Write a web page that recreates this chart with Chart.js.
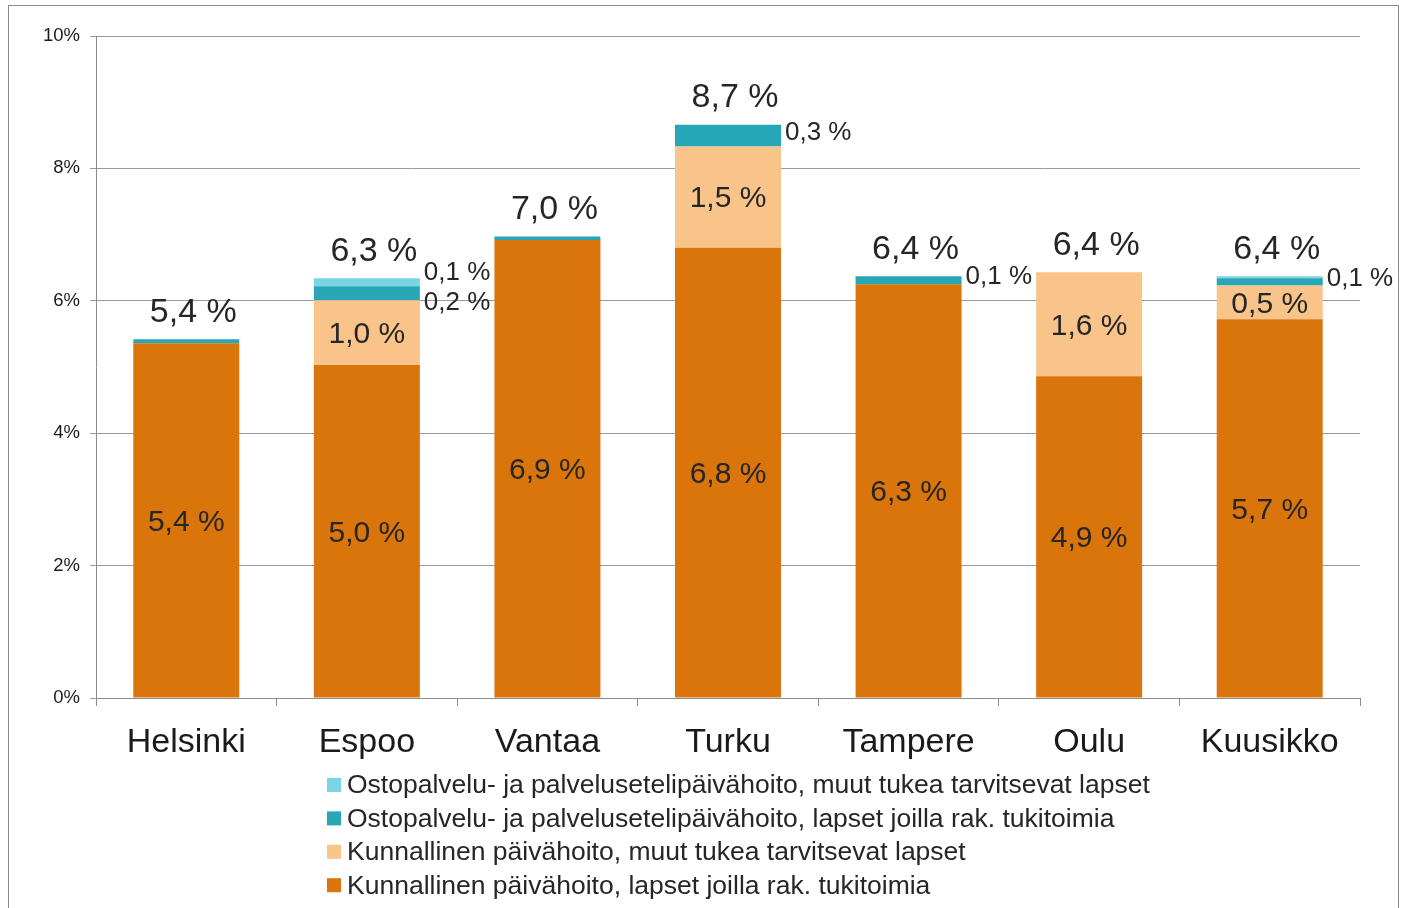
<!DOCTYPE html>
<html>
<head>
<meta charset="utf-8">
<script src="https://cdn.jsdelivr.net/npm/chart.js@4.4.1/dist/chart.umd.min.js"></script>
<style>
  html, body { margin: 0; padding: 0; background: #fff; }
  #wrap { width: 1405px; height: 908px; position: relative; }
</style>
</head>
<body>
<div id="wrap"><canvas id="myChart" width="1405" height="908"></canvas></div>
<script>
// kaupungit
var kaupungit = ['Helsinki', 'Espoo', 'Vantaa', 'Turku', 'Tampere', 'Oulu', 'Kuusikko'];

// osuudet prosentteina, luettu kuvasta
var kunnRak   = [5.36, 5.03, 6.92, 6.80, 6.25, 4.86, 5.72];
var kunnMuut  = [0,    0.98, 0,    1.53, 0,    1.57, 0.51];
var ostoRak   = [0.06, 0.21, 0.05, 0.33, 0.12, 0,    0.11];
var ostoMuut  = [0,    0.12, 0,    0,    0,    0,    0.03];

var yTicks = [0, 2, 4, 6, 8, 10];

var fontti = '"Liberation Sans", Arial, sans-serif';

const muotoile = v => v.toFixed(1).replace('.', ',') + ' %';

var kehys = {
    id: 'kehys',
    beforeDraw: chart => {
        const c = chart.ctx;
        c.save();
        c.strokeStyle = '#8c8c8c';
        c.lineWidth = 1;
        c.strokeRect(8.5, 5.5, 1390, 1000);
        c.restore();
    }
};

var arvot = {
    id: 'arvot',
    afterDatasetsDraw: chart => {
        const c = chart.ctx;
        c.save();
        c.fillStyle = '#262626';
        c.textAlign = 'center';
        c.textBaseline = 'middle';
        // sisällä olevat
        [0, 1].forEach(d => {
            const meta = chart.getDatasetMeta(d);
            chart.data.datasets[d].data.forEach((v, i) => {
                if (v < 0.3) return;
                const el = meta.data[i];
                c.font = '30px ' + fontti;
                c.fillText(muotoile(v), el.x, (el.y + el.base) / 2 + 2);
            });
        });
        // oikealla olevat pienet
        kaupungit.forEach((k, i) => {
            let lista = [];
            [2, 3].forEach(d => {
                const v = chart.data.datasets[d].data[i];
                if (v < 0.1) return;
                const el = chart.getDatasetMeta(d).data[i];
                lista.push({ v: v, x: el.x + el.width / 2 + 4, y: (el.y + el.base) / 2 });
            });
            if (lista.length == 2) {
                lista[0].y += 10;
                lista[1].y -= 9;
            } else if (lista.length == 1) {
                lista[0].y -= 3;
            }
            c.font = '26px ' + fontti;
            c.textAlign = 'left';
            lista.forEach(l => c.fillText(muotoile(l.v), l.x, l.y));
        });
        // yhteensä
        c.textAlign = 'center';
        c.font = '34px ' + fontti;
        kaupungit.forEach((k, i) => {
            let summa = 0;
            let ylin = 1e9;
            chart.data.datasets.forEach((ds, d) => {
                summa += ds.data[i];
                const el = chart.getDatasetMeta(d).data[i];
                if (ds.data[i] > 0) ylin = Math.min(ylin, el.y);
            });
            const el = chart.getDatasetMeta(0).data[i];
            c.fillText(muotoile(summa), el.x + 7, ylin - 27);
        });
        c.restore();
    }
};

var selite = {
    id: 'selite',
    afterDraw: chart => {
        const c = chart.ctx;
        c.save();
        c.font = '26.5px ' + fontti;
        c.textAlign = 'left';
        c.textBaseline = 'middle';
        const sarjat = chart.data.datasets.slice().reverse();
        sarjat.forEach((ds, j) => {
            const y = 785 + j * 33.4;
            c.fillStyle = ds.backgroundColor;
            c.fillRect(327, y - 7, 14, 14);
            c.fillStyle = '#262626';
            c.fillText(ds.label, 347, y + 1);
        });
        c.restore();
    }
};

var ctx = document.getElementById('myChart').getContext('2d');
var chart = new Chart(ctx, {
    type: 'bar',
    data: {
        labels: kaupungit,
        datasets: [{
            label: 'Kunnallinen päivähoito, lapset joilla rak. tukitoimia',
            backgroundColor: '#D9750B',
            data: kunnRak
        }, {
            label: 'Kunnallinen päivähoito, muut tukea tarvitsevat lapset',
            backgroundColor: '#F8C489',
            data: kunnMuut
        }, {
            label: 'Ostopalvelu- ja palvelusetelipäivähoito, lapset joilla rak. tukitoimia',
            backgroundColor: '#27A6B7',
            data: ostoRak
        }, {
            label: 'Ostopalvelu- ja palvelusetelipäivähoito, muut tukea tarvitsevat lapset',
            backgroundColor: '#7BD4E2',
            data: ostoMuut
        }]
    },
    options: {
        responsive: false,
        animation: false,
        layout: { padding: { left: 8, right: 45, top: 36, bottom: 0 } },
        datasets: { bar: { categoryPercentage: 1, barPercentage: 0.587 } },
        plugins: {
            legend: { display: false },
            tooltip: { enabled: false }
        },
        scales: {
            x: {
                stacked: true,
                afterFit: s => { s.height = 210; },
                grid: { offset: true, drawOnChartArea: false, tickLength: 8, color: '#8c8c8c' },
                border: { color: '#8c8c8c' },
                ticks: { color: '#1a1a1a', font: { family: fontti, size: 34 }, padding: 16 }
            },
            y: {
                stacked: true,
                min: 0,
                max: 10,
                afterFit: s => { s.width = 88; },
                afterBuildTicks: s => { s.ticks = yTicks.map(v => ({ value: v })); },
                grid: { color: '#9a9a9a', tickLength: 6 },
                border: { color: '#8c8c8c' },
                ticks: {
                    color: '#1a1a1a',
                    font: { family: fontti, size: 18.5 },
                    padding: 10,
                    callback: v => v + '%'
                }
            }
        }
    },
    plugins: [kehys, arvot, selite]
});
</script>
</body>
</html>
